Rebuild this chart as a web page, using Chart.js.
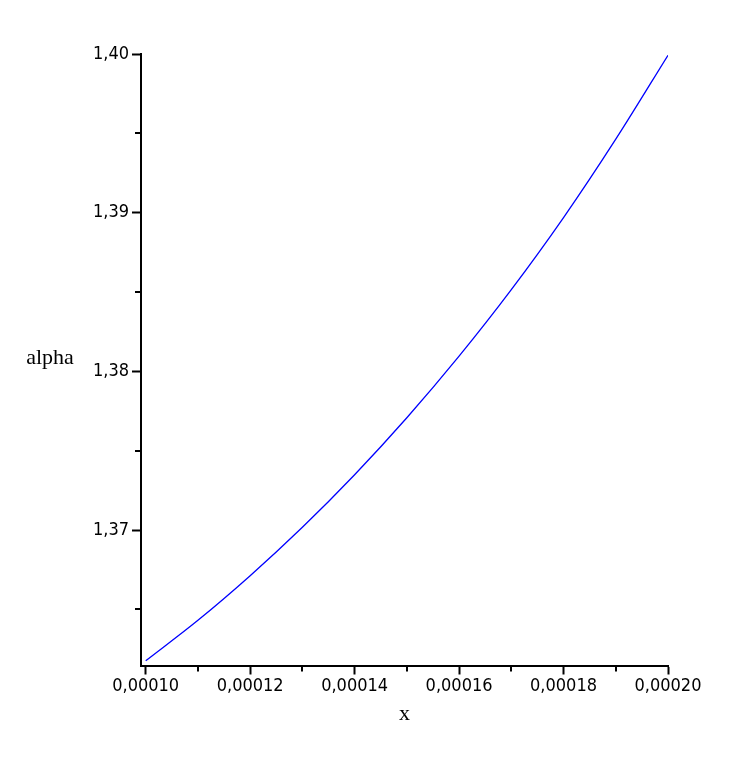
<!DOCTYPE html>
<html>
<head>
<meta charset="utf-8">
<title>alpha vs x</title>
<script src="https://cdn.jsdelivr.net/npm/chart.js@4/dist/chart.umd.min.js"></script>
<style>
  body { margin: 0; background: #fff; }
  canvas { display: block; }
</style>
</head>
<body>
<canvas id="alphaChart" width="747" height="757"></canvas>
<script>
// Curve samples
const xValues = [0.00010, 0.00011, 0.00012, 0.00013, 0.00014, 0.00015, 0.00016, 0.00017, 0.00018, 0.00019, 0.00020];
const alphaValues = [1.36177, 1.36432, 1.36713, 1.37018, 1.37349, 1.37708, 1.38096, 1.38515, 1.38969, 1.39463, 1.39992];

// Axis ticks
const xMajorTicks = [0.00010, 0.00012, 0.00014, 0.00016, 0.00018, 0.00020];
const xTickLabels = ["0,00010", "0,00012", "0,00014", "0,00016", "0,00018", "0,00020"];
const xMinorTicks = [0.00011, 0.00013, 0.00015, 0.00017, 0.00019];
const yMajorTicks = [1.37, 1.38, 1.39, 1.40];
const yTickLabels = ["1,37", "1,38", "1,39", "1,40"];
const yMinorTicks = [1.365, 1.375, 1.385, 1.395];

const canvas = document.getElementById("alphaChart");

// Short minor ticks and the two axis titles (y title is horizontal, like Maple)
const extrasPlugin = {
  id: "extras",
  afterDraw(chart) {
    const ctx = chart.ctx;
    const xs = chart.scales.x;
    const ys = chart.scales.y;
    const area = chart.chartArea;
    ctx.save();
    ctx.strokeStyle = "#000";
    ctx.lineWidth = 2;
    ctx.beginPath();
    xMinorTicks.forEach((v) => {
      const px = Math.round(xs.getPixelForValue(v));
      ctx.moveTo(px, area.bottom);
      ctx.lineTo(px, area.bottom + 6);
    });
    yMinorTicks.forEach((v) => {
      const py = Math.round(ys.getPixelForValue(v));
      ctx.moveTo(area.left, py);
      ctx.lineTo(area.left - 6, py);
    });
    ctx.stroke();

    ctx.fillStyle = "#000";
    ctx.font = "22px 'Liberation Serif', 'Times New Roman', serif";
    ctx.textAlign = "center";
    ctx.textBaseline = "middle";
    ctx.fillText("alpha", 50, (area.top + area.bottom) / 2 - 2);
    ctx.fillText("x", (area.left + area.right) / 2, area.bottom + 49);
    ctx.restore();
  },
};

const tickFont = { family: "'DejaVu Sans Condensed', 'Liberation Sans', sans-serif", size: 18 };

new Chart(canvas, {
  type: "line",
  data: {
    labels: xValues,
    datasets: [
      {
        label: "alpha",
        data: xValues.map((x, i) => ({ x: x, y: alphaValues[i] })),
        borderColor: "#0000ff",
        borderWidth: 1.3,
        pointRadius: 0,
        fill: false,
        cubicInterpolationMode: "monotone",
      },
    ],
  },
  options: {
    responsive: false,
    animation: false,
    layout: {
      padding: { left: 0, top: 54, right: 79, bottom: 31.5 },
    },
    plugins: {
      legend: { display: false },
      tooltip: { enabled: false },
    },
    scales: {
      x: {
        type: "linear",
        min: 0.0000991,
        max: 0.0002,
        afterBuildTicks: (scale) => {
          scale.ticks = xMajorTicks.map((v) => ({ value: v }));
        },
        afterFit: (scale) => {
          scale.height = 60;
        },
        ticks: {
          callback: (value, index) => xTickLabels[index],
          color: "#000",
          font: tickFont,
          padding: 1,
          maxRotation: 0,
          autoSkip: false,
        },
        grid: {
          drawOnChartArea: false,
          tickLength: 9,
          tickWidth: 2,
          tickColor: "#000",
        },
        border: { display: true, color: "#000", width: 2 },
      },
      y: {
        type: "linear",
        min: 1.36147,
        max: 1.4,
        afterBuildTicks: (scale) => {
          scale.ticks = yMajorTicks.map((v) => ({ value: v }));
        },
        afterFit: (scale) => {
          scale.width = 141;
        },
        ticks: {
          callback: (value, index) => yTickLabels[index],
          color: "#000",
          font: tickFont,
          padding: 3,
          autoSkip: false,
        },
        grid: {
          drawOnChartArea: false,
          tickLength: 9,
          tickWidth: 2,
          tickColor: "#000",
        },
        border: { display: true, color: "#000", width: 2 },
      },
    },
  },
  plugins: [extrasPlugin],
});
</script>
</body>
</html>
